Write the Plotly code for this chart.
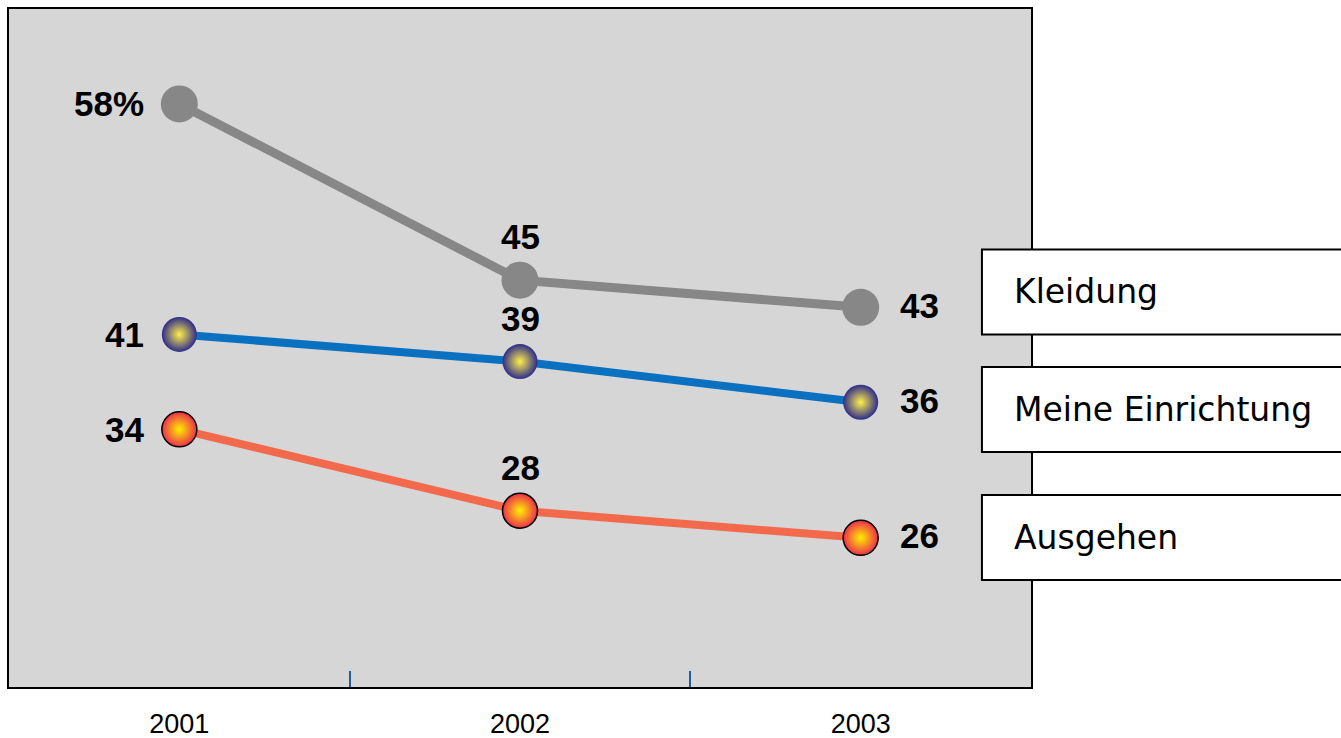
import plotly.graph_objects as go

years = ["2001", "2002", "2003"]
x_pos = [0, 1, 2]
series_names = ["Kleidung", "Meine Einrichtung", "Ausgehen"]
kleidung = [58, 45, 43]
einrichtung = [41, 39, 36]
ausgehen = [34, 28, 26]

kleidung_text = ["58%", "45", "43"]
einrichtung_text = ["41", "39", "36"]
ausgehen_text = ["34", "28", "26"]

label_font = dict(family="Liberation Sans, Arial, sans-serif", size=35, color="black", weight="bold")

fig = go.Figure()

fig.add_trace(go.Scatter(
    x=x_pos, y=kleidung, mode="lines+markers", name=series_names[0],
    line=dict(color="#878787", width=9),
    marker=dict(size=37, color="#878787"),
    cliponaxis=False, showlegend=False,
))
fig.add_trace(go.Scatter(
    x=x_pos, y=einrichtung, mode="lines+markers", name=series_names[1],
    line=dict(color="#0a70c0", width=8),
    marker=dict(size=35, color="#2f2c8a",
                gradient=dict(type="radial", color="#fff04a"),
                line=dict(width=0)),
    cliponaxis=False, showlegend=False,
))
fig.add_trace(go.Scatter(
    x=x_pos, y=ausgehen, mode="lines+markers", name=series_names[2],
    line=dict(color="#f26a4b", width=8),
    marker=dict(size=35, color="#ec2f4c",
                gradient=dict(type="radial", color="#ffee00"),
                line=dict(width=1.5, color="black")),
    cliponaxis=False, showlegend=False,
))

# value labels: left of first point, above middle point, right of last point
for values, texts in [(kleidung, kleidung_text), (einrichtung, einrichtung_text), (ausgehen, ausgehen_text)]:
    for i, (xv, yv, t) in enumerate(zip(x_pos, values, texts)):
        if i == 0:
            kw = dict(xanchor="right", yanchor="middle", xshift=-33, yshift=0)
        elif i == 1:
            kw = dict(xanchor="center", yanchor="bottom", xshift=0, yshift=22)
        else:
            kw = dict(xanchor="left", yanchor="middle", xshift=37, yshift=2)
        fig.add_annotation(x=xv, y=yv, text=t, showarrow=False, font=label_font, **kw)

# legend boxes (layout decoration)
box_centers = [0.5826, 0.4093, 0.2205]
box_half = 42.5 / 678
for name, yc in zip(series_names, box_centers):
    fig.add_shape(type="rect", xref="paper", yref="paper",
                  x0=0.952, x1=1.33, y0=yc - box_half, y1=yc + box_half,
                  line=dict(color="black", width=2), fillcolor="white", layer="above")
    fig.add_annotation(xref="paper", yref="paper", x=0.981, y=yc,
                       xanchor="left", yanchor="middle", showarrow=False,
                       text=name,
                       font=dict(family="DejaVu Sans, sans-serif", size=33, color="black"))

fig.update_layout(
    width=1341, height=738,
    margin=dict(l=9, r=310, t=9, b=51, autoexpand=False),
    paper_bgcolor="white", plot_bgcolor="#d6d6d6",
    xaxis=dict(range=[-0.5, 2.5], tickvals=x_pos, ticktext=years, ticks="",
               showgrid=False, zeroline=False, automargin=False,
               showline=True, mirror=True, linecolor="black", linewidth=2,
               tickfont=dict(family="Liberation Sans, Arial, sans-serif", size=27, color="black"),
               ticklabelstandoff=12,
               minor=dict(tickvals=[0.5, 1.5], ticks="inside", ticklen=16,
                          tickwidth=2, tickcolor="#1f5d9c", showgrid=False)),
    yaxis=dict(range=[15, 65], showticklabels=False, ticks="", showgrid=False, automargin=False,
               zeroline=False, showline=True, mirror=True, linecolor="black", linewidth=2),
)

fig.write_html("out.html")
